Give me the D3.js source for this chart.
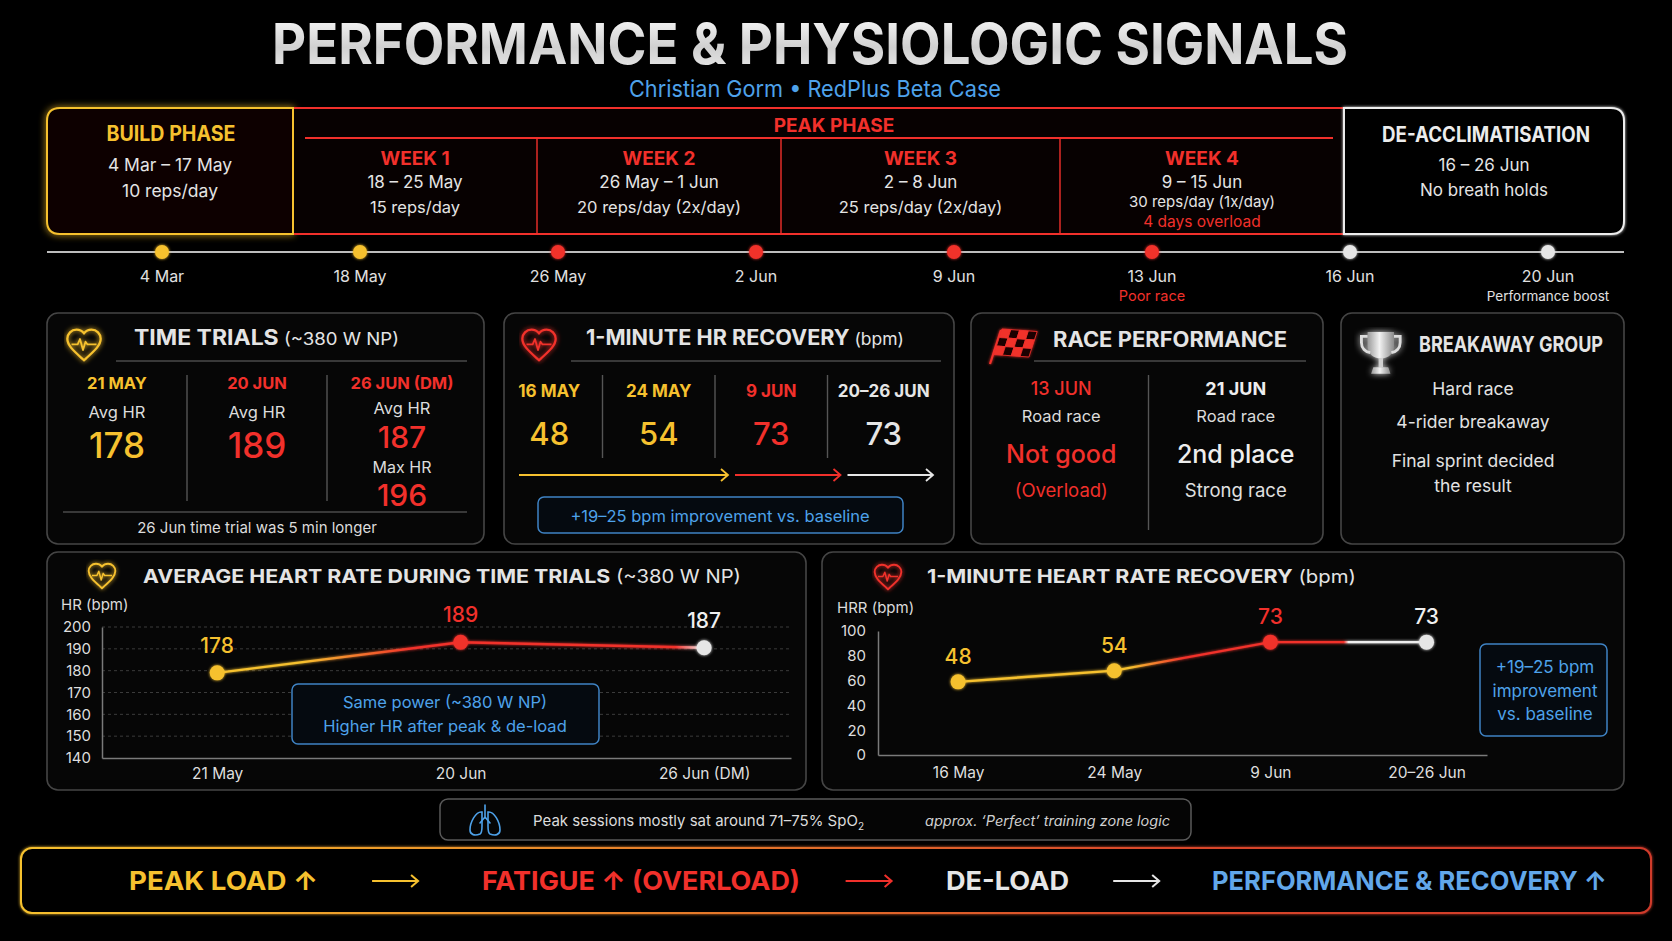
<!DOCTYPE html>
<html><head><meta charset="utf-8">
<script src="https://cdn.jsdelivr.net/npm/d3@7"></script>
<style>
html,body{margin:0;padding:0;background:#000;overflow:hidden;}
svg{display:block;font-family:Inter,Roboto,"Noto Sans",sans-serif;}
</style></head><body>
<svg id="c" width="1672" height="941"></svg>
<script>
// ---------------- DATA ----------------
const timelineDates = ["4 Mar","18 May","26 May","2 Jun","9 Jun","13 Jun","16 Jun","20 Jun"];
const timelinePhase = ["build","build","peak","peak","peak","peak","deload","deload"];
const timelineNotes = ["","","","","","Poor race","","Performance boost"];

const weekNames  = ["WEEK 1","WEEK 2","WEEK 3","WEEK 4"];
const weekRanges = ["18 – 25 May","26 May – 1 Jun","2 – 8 Jun","9 – 15 Jun"];
const weekReps   = ["15 reps/day","20 reps/day (2x/day)","25 reps/day (2x/day)","30 reps/day (1x/day)"];
const weekNotes  = ["","","","4 days overload"];

const ttDates = ["21 MAY","20 JUN","26 JUN (DM)"];
const ttPhase = ["build","peak","peak"];
const ttAvgHR = [178,189,187];
const ttMaxHR = [null,null,196];

const hrrDates  = ["16 MAY","24 MAY","9 JUN","20–26 JUN"];
const hrrPhase  = ["build","build","peak","deload"];
const hrrValues = [48,54,73,73];

const raceDates  = ["13 JUN","21 JUN"];
const raceType   = ["Road race","Road race"];
const raceResult = ["Not good","2nd place"];
const raceNote   = ["(Overload)","Strong race"];
const racePhase  = ["peak","deload"];

const breakawayLines = ["Hard race","4-rider breakaway","Final sprint decided","the result"];

const hrChartDates   = ["21 May","20 Jun","26 Jun (DM)"];
const hrChartLabels  = [178,189,187];
const hrChartPlotted = [179,193,190.5];   // heights as drawn in the reference
const hrChartPhase   = ["build","peak","deload"];
const hrYTicks       = [140,150,160,170,180,190,200];

const hrrChartDates   = ["16 May","24 May","9 Jun","20–26 Jun"];
const hrrChartLabels  = [48,54,73,73];
const hrrChartPlotted = [59,68,91,91];    // heights as drawn in the reference
const hrrChartPhase   = ["build","build","peak","deload"];
const hrrYTicks       = [0,20,40,60,80,100];

const flowSteps = ["PEAK LOAD ↑","FATIGUE ↑ (OVERLOAD)","DE-LOAD","PERFORMANCE & RECOVERY ↑"];
const flowPhase = ["build","peak","deload","perf"];

// ---------------- STYLE / LAYOUT ----------------
const COL = {build:"#f6c12f", peak:"#f1302b", deload:"#e6e6e6", perf:"#62a7ea", blue:"#4ea2ea", text:"#dcdcdc"};
const col = p => COL[p];
const W = 1672, H = 941;
const svg = d3.select("#c");
svg.append("rect").attr("width",W).attr("height",H).attr("fill","#000");
const defs = svg.append("defs");

function glow(id, sd){
  const f = defs.append("filter").attr("id",id).attr("filterUnits","userSpaceOnUse")
    .attr("x",0).attr("y",0).attr("width",W).attr("height",H);
  f.append("feGaussianBlur").attr("in","SourceGraphic").attr("stdDeviation",sd).attr("result","b");
  const m = f.append("feMerge");
  m.append("feMergeNode").attr("in","b");
  m.append("feMergeNode").attr("in","SourceGraphic");
}
glow("glow",3.5); glow("glowS",1.5);

const tg = defs.append("linearGradient").attr("id","titleGrad").attr("x1",0).attr("x2",0).attr("y1",0).attr("y2",1);
tg.append("stop").attr("offset",0).attr("stop-color","#ffffff");
tg.append("stop").attr("offset",0.55).attr("stop-color","#d0d0d0");
tg.append("stop").attr("offset",1).attr("stop-color","#eeeeee");
const sg = defs.append("linearGradient").attr("id","silver").attr("x1",0).attr("x2",1).attr("y1",0).attr("y2",0);
sg.append("stop").attr("offset",0).attr("stop-color","#9a9a9a");
sg.append("stop").attr("offset",0.45).attr("stop-color","#f2f2f2");
sg.append("stop").attr("offset",1).attr("stop-color","#8a8a8a");
const bg = defs.append("linearGradient").attr("id","bannerGrad").attr("x1",0).attr("x2",1).attr("y1",0).attr("y2",0);
[[0,"#f6c12f"],[0.35,"#e8862a"],[0.7,"#d9472c"],[1,"#cf3a2c"]].forEach(s=>bg.append("stop").attr("offset",s[0]).attr("stop-color",s[1]));

function T(x,y,s,o={}){
  const t = svg.append("text").attr("x",x).attr("y",y).text(s)
    .attr("fill",o.fill||COL.text).attr("font-size",o.size||16).attr("font-weight",o.weight||400)
    .attr("text-anchor",o.anchor||"middle");
  if(o.len) t.attr("textLength",o.len).attr("lengthAdjust","spacingAndGlyphs");
  if(o.style) t.attr("font-style",o.style);
  if(o.filter) t.attr("filter",`url(#${o.filter})`);
  return t;
}
function panel(x0,y0,x1,y1){
  svg.append("rect").attr("x",x0).attr("y",y0).attr("width",x1-x0).attr("height",y1-y0).attr("rx",11)
    .attr("fill","#060606").attr("stroke","#454545").attr("stroke-width",1.6);
}
function header(x,y,main,sub,len,size,subSize){
  const t = svg.append("text").attr("x",x).attr("y",y).attr("fill","#e4e4e4").attr("font-weight",700).attr("font-size",size);
  t.append("tspan").text(main);
  if(sub) t.append("tspan").attr("font-weight",400).attr("font-size",subSize).text(" "+sub);
  if(len) t.attr("textLength",len).attr("lengthAdjust","spacingAndGlyphs");
}
function hline(x0,x1,y,c,w){ svg.append("line").attr("x1",x0).attr("x2",x1).attr("y1",y).attr("y2",y).attr("stroke",c).attr("stroke-width",w||1.5); }
function vline(x,y0,y1,c,w){ svg.append("line").attr("x1",x).attr("x2",x).attr("y1",y0).attr("y2",y1).attr("stroke",c).attr("stroke-width",w||1.5); }
function heart(cx,cy,size,c){
  const s=size/24, g=svg.append("g").attr("transform",`translate(${cx-12*s},${cy-12.2*s}) scale(${s})`).attr("filter","url(#glowS)");
  g.append("path").attr("d","M12 21.35l-1.45-1.32C5.4 15.36 2 12.28 2 8.5 2 5.42 4.42 3 7.5 3c1.74 0 3.41.81 4.5 2.09C13.09 3.81 14.76 3 16.5 3 19.58 3 22 5.42 22 8.5c0 3.78-3.4 6.86-8.55 11.54L12 21.35z")
    .attr("fill","none").attr("stroke",c).attr("stroke-width",1.4);
  g.append("path").attr("d","M4.5 11.8H8.2L9.6 8.6L11.4 15.2L12.9 10.2L14 11.8H19.5")
    .attr("fill","none").attr("stroke",c).attr("stroke-width",1.1).attr("stroke-linejoin","round");
}
function arrow(x0,x1,y,c,w){
  svg.append("line").attr("x1",x0).attr("x2",x1-1).attr("y1",y).attr("y2",y).attr("stroke",c).attr("stroke-width",w||2);
  svg.append("path").attr("d",`M${x1-7},${y-6}L${x1},${y}L${x1-7},${y+6}`).attr("fill","none").attr("stroke",c).attr("stroke-width",w||2);
}

// ---------------- TITLE ----------------
T(272,64,"PERFORMANCE & PHYSIOLOGIC SIGNALS",{anchor:"start",size:56,weight:700,fill:"url(#titleGrad)",len:1076});
T(815,97,"Christian Gorm • RedPlus Beta Case",{size:23,fill:COL.blue,len:372});

// ---------------- PHASE BOXES ----------------
const ph = {top:108,bot:234,x0:47,b1:293,b2:1344,x1:1624};
const weekEdges = [ph.b1,537,781,1060,ph.b2];   // layout of the week columns
svg.append("path").attr("d",`M${ph.b1},${ph.top}H${ph.x0+13}Q${ph.x0},${ph.top} ${ph.x0},${ph.top+13}V${ph.bot-13}Q${ph.x0},${ph.bot} ${ph.x0+13},${ph.bot}H${ph.b1}Z`)
  .attr("fill","#080602").attr("stroke",COL.build).attr("stroke-width",2).attr("filter","url(#glow)");
svg.append("rect").attr("x",ph.b1+1).attr("y",ph.top).attr("width",ph.b2-ph.b1-1).attr("height",ph.bot-ph.top).attr("fill","#070101");
hline(ph.b1+1,ph.b2,ph.top,COL.peak,2); hline(ph.b1+1,ph.b2,ph.bot,COL.peak,2);
svg.append("path").attr("d",`M${ph.b1},${ph.top}V${ph.bot}`).attr("stroke",COL.build).attr("stroke-width",2);
svg.append("path").attr("d",`M${ph.b2},${ph.top}H${ph.x1-13}Q${ph.x1},${ph.top} ${ph.x1},${ph.top+13}V${ph.bot-13}Q${ph.x1},${ph.bot} ${ph.x1-13},${ph.bot}H${ph.b2}Z`)
  .attr("fill","#060606").attr("stroke","#ededed").attr("stroke-width",2).attr("filter","url(#glowS)");

T((ph.x0+ph.b1)/2+1,141,"BUILD PHASE",{size:21,weight:700,fill:COL.build,len:129});
T((ph.x0+ph.b1)/2,171,"4 Mar – 17 May",{size:17.5,fill:"#e4e4e4"});
T((ph.x0+ph.b1)/2,197,"10 reps/day",{size:17.5,fill:"#e4e4e4"});

T(834,132,"PEAK PHASE",{size:19,weight:700,fill:COL.peak});
hline(305,1333,138,COL.peak,1.8);
weekNames.forEach((w,i)=>{
  const x0 = weekEdges[i], cx = (weekEdges[i]+weekEdges[i+1])/2;
  if(i>0) vline(x0,138,ph.bot,COL.peak,1.4);
  T(cx,165,w,{size:19,weight:700,fill:COL.peak});
  T(cx,188,weekRanges[i],{size:17,fill:"#e4e4e4"});
  if(weekNotes[i]){
    T(cx,207,weekReps[i],{size:15,fill:"#e4e4e4"});
    T(cx,227,weekNotes[i],{size:15.5,fill:COL.peak});
  } else T(cx,213,weekReps[i],{size:16.5,fill:"#e4e4e4"});
});
T((ph.b2+ph.x1)/2+2,142,"DE-ACCLIMATISATION",{size:21,weight:700,fill:"#ececec",len:208});
T((ph.b2+ph.x1)/2,171,"16 – 26 Jun",{size:17,fill:"#e4e4e4"});
T((ph.b2+ph.x1)/2,196,"No breath holds",{size:17,fill:"#e4e4e4"});

// ---------------- TIMELINE ----------------
const tlY = 252;
hline(ph.x0,ph.x1,tlY,"#bdbdbd",2.2);
const tx = d3.scalePoint().domain(timelineDates).range([162,1548]);
svg.append("g").selectAll("circle").data(timelineDates).join("circle")
  .attr("cx",d=>tx(d)).attr("cy",tlY).attr("r",7)
  .attr("fill",(d,i)=>col(timelinePhase[i])).attr("filter","url(#glowS)");
timelineDates.forEach((d,i)=>{
  T(tx(d),282,d,{size:16,fill:"#e0e0e0"});
  if(timelineNotes[i]) T(tx(d),301,timelineNotes[i],{size:i===5?14.5:13.5,fill:i===5?COL.peak:"#e0e0e0"});
});

// ---------------- TOP PANELS ----------------
// Time trials
panel(47,313,484,544);
heart(84,345,40,COL.build);
header(134,345,"TIME TRIALS","(~380 W NP)",265,21,17);
hline(116,467,361,"#4a4a4a",1.5);
const ttBand = d3.scaleBand().domain(ttDates).range([47,467]);
ttDates.forEach((d,i)=>{
  const x0=ttBand(d), cx=x0+ttBand.bandwidth()/2+(i===2?5:0), c=col(ttPhase[i]);
  if(i>0) vline(x0,375,501,"#555",1.4);
  T(cx,389,d,{size:16.5,weight:700,fill:c});
  if(ttMaxHR[i]==null){
    T(cx,418,"Avg HR",{size:16.5});
    T(cx,458,ttAvgHR[i],{size:35,weight:500,fill:c});
  } else {
    T(cx,414,"Avg HR",{size:16.5});
    T(cx,448,ttAvgHR[i],{size:30,weight:500,fill:c});
    T(cx,473,"Max HR",{size:16});
    T(cx,506,ttMaxHR[i],{size:30,weight:500,fill:c});
  }
});
hline(63,467,512,"#4a4a4a",1.5);
T(257,533,"26 Jun time trial was 5 min longer",{size:15});

// HR recovery
panel(504,313,954,544);
heart(539,345,40,COL.peak);
header(586,345,"1-MINUTE HR RECOVERY","(bpm)",318,21,17);
hline(571,941,361,"#4a4a4a",1.5);
const hrrBand = d3.scaleBand().domain(hrrDates).range([490,940]);
const bw = hrrBand.bandwidth();
hrrDates.forEach((d,i)=>{
  const x0=hrrBand(d), cx=x0+bw/2+(i===0?3:0), c=col(hrrPhase[i]);
  if(i>0) vline(x0,375,458,"#555",1.4);
  T(cx,397,d,{size:17,weight:700,fill:c});
  T(cx,445,hrrValues[i],{size:31,weight:500,fill:c});
});
let segStart = 0;
hrrPhase.forEach((p,i)=>{
  if(i===hrrPhase.length-1 || hrrPhase[i+1]!==p){
    const a=segStart, b=i, n=hrrPhase.length;
    const x0 = hrrBand(hrrDates[a]) + (a===0?29:20);
    const x1 = b<n-1 ? hrrBand(hrrDates[b+1])+13 : hrrBand(hrrDates[b])+bw-7;
    arrow(x0,x1,475,col(p),1.8);
    segStart = i+1;
  }
});
svg.append("rect").attr("x",538).attr("y",497).attr("width",365).attr("height",36).attr("rx",6)
  .attr("fill","#050a10").attr("stroke","#3f83c4").attr("stroke-width",1.5);
T(720,522,"+19–25 bpm improvement vs. baseline",{size:16.5,fill:COL.blue});

// Race performance
panel(971,313,1323,544);
(function flag(){
  const g = svg.append("g").attr("filter","url(#glowS)");
  g.append("line").attr("x1",990).attr("y1",364).attr("x2",1001).attr("y2",330).attr("stroke",COL.peak).attr("stroke-width",2.2);
  const f = g.append("g").attr("transform","translate(1002,329) skewX(-18) skewY(4)");
  for(let r=0;r<3;r++) for(let c=0;c<4;c++){
    f.append("rect").attr("x",c*9).attr("y",r*8.5).attr("width",9).attr("height",8.5)
      .attr("fill",(r+c)%2===0?COL.peak:"#1a0202").attr("stroke",COL.peak).attr("stroke-width",0.8);
  }
})();
header(1053,347,"RACE PERFORMANCE",null,234,21);
hline(1034,1306,361,"#4a4a4a",1.5);
const raceBand = d3.scaleBand().domain(raceDates).range([974,1323]);
raceDates.forEach((d,i)=>{
  const x0=raceBand(d), cx=x0+raceBand.bandwidth()/2;
  if(i>0) vline(x0,375,530,"#555",1.4);
  T(cx,395,d,{size:18,weight:i===0?500:700,fill:i===0?COL.peak:"#eeeeee"});
  T(cx,422,raceType[i],{size:16.5});
  T(cx,463,raceResult[i],{size:25,weight:500,fill:i===0?COL.peak:"#eeeeee"});
  T(cx,497,raceNote[i],{size:18.5,fill:i===0?COL.peak:"#e0e0e0"});
});

// Breakaway group
panel(1341,313,1624,544);
(function trophy(){
  const s=2.2, g=svg.append("g").attr("transform",`translate(${1361-3*s},${332-2*s}) scale(${s})`).attr("filter","url(#glowS)");
  g.append("path").attr("d","M6 2H18V8C18 11.8 15.5 14 12 14C8.5 14 6 11.8 6 8Z").attr("fill","url(#silver)");
  g.append("path").attr("d","M6 4H3.2V6.8C3.2 9.4 5 11 7.2 11.4M18 4H20.8V6.8C20.8 9.4 19 11 16.8 11.4")
    .attr("fill","none").attr("stroke","#dcdcdc").attr("stroke-width",1.3);
  g.append("rect").attr("x",11).attr("y",13.8).attr("width",2).attr("height",4.2).attr("fill","#cfcfcf");
  g.append("path").attr("d","M8.6 18H15.4L16.4 21H7.6Z").attr("fill","url(#silver)");
})();
header(1419,352,"BREAKAWAY GROUP",null,184,22);
const bY = [395,428,467,492];
breakawayLines.forEach((l,i)=>T(1473,bY[i],l,{size:17.5,fill:"#e2e2e2"}));

// ---------------- HR CHART ----------------
panel(47,552,806,790);
heart(102,576,32,COL.build);
header(143,583,"AVERAGE HEART RATE DURING TIME TRIALS","(~380 W NP)",598,19,18);
T(61,610,"HR (bpm)",{anchor:"start",size:15});
const hx = d3.scalePoint().domain(hrChartDates).range([102,791]).padding(0.415).align(0.57);
const hy = d3.scaleLinear().domain([140,200]).range([758,627]);
svg.append("g").selectAll("line").data(hrYTicks.slice(1)).join("line")
  .attr("x1",102).attr("x2",791).attr("y1",d=>hy(d)).attr("y2",d=>hy(d))
  .attr("stroke","#3b3b3b").attr("stroke-width",1).attr("stroke-dasharray","3,3");
const hyAx = svg.append("g").attr("transform","translate(102,0)")
  .call(d3.axisLeft(hy).tickValues(hrYTicks).tickSize(0).tickPadding(11));
const hxAx = svg.append("g").attr("transform","translate(0,758)")
  .call(d3.axisBottom(hx).tickSize(0).tickPadding(10));
[hyAx,hxAx].forEach(a=>{
  a.select(".domain").attr("stroke","#7a7a7a").attr("stroke-width",1.5);
  a.selectAll("text").attr("fill","#dedede").attr("font-size",15.5).attr("font-family","Inter,Roboto,sans-serif");
});
hyAx.selectAll("text").attr("font-size",15);
(function(){
  const xs = hrChartDates.map(d=>hx(d)), x0=xs[0], x2=xs[xs.length-1], L=x2-x0;
  const g = defs.append("linearGradient").attr("id","hrLine").attr("gradientUnits","userSpaceOnUse")
    .attr("x1",x0).attr("x2",x2).attr("y1",0).attr("y2",0);
  const f = x=>(x-x0)/L;
  [[0,COL.build],[f(x0+0.35*(xs[1]-x0)),COL.build],[f(x0+0.8*(xs[1]-x0)),COL.peak],[f(x2-0.12*(x2-xs[1])),COL.peak],[1,"#f2f2f2"]]
    .forEach(s=>g.append("stop").attr("offset",s[0]).attr("stop-color",s[1]));
})();
const hrPts = hrChartDates.map((d,i)=>[hx(d),hy(hrChartPlotted[i])]);
svg.append("path").attr("d",d3.line()(hrPts)).attr("fill","none").attr("stroke","url(#hrLine)").attr("stroke-width",2.4).attr("filter","url(#glowS)");
svg.append("g").selectAll("circle").data(hrChartDates).join("circle")
  .attr("cx",d=>hx(d)).attr("cy",(d,i)=>hy(hrChartPlotted[i])).attr("r",7.5)
  .attr("fill",(d,i)=>col(hrChartPhase[i])).attr("filter","url(#glowS)");
hrChartDates.forEach((d,i)=>T(hx(d),hy(hrChartPlotted[i])-20,hrChartLabels[i],{size:21,weight:500,fill:i===2?"#f0f0f0":col(hrChartPhase[i])}));
svg.append("rect").attr("x",292).attr("y",684).attr("width",307).attr("height",60).attr("rx",6)
  .attr("fill","#050a10").attr("stroke","#3f83c4").attr("stroke-width",1.5);
T(445,708,"Same power (~380 W NP)",{size:16.5,fill:COL.blue});
T(445,732,"Higher HR after peak & de-load",{size:16.5,fill:COL.blue});

// ---------------- HRR CHART ----------------
panel(822,552,1624,790);
heart(888,577,32,COL.peak);
header(927,583,"1-MINUTE HEART RATE RECOVERY","(bpm)",429,19,18);
T(837,613,"HRR (bpm)",{anchor:"start",size:15});
const rx = d3.scalePoint().domain(hrrChartDates).range([878,1487]).padding(0.45).align(0.57);
const ry = d3.scaleLinear().domain([0,100]).range([755,631]);
const ryAx = svg.append("g").attr("transform","translate(878,0)")
  .call(d3.axisLeft(ry).tickValues(hrrYTicks).tickSize(0).tickPadding(12));
const rxAx = svg.append("g").attr("transform","translate(0,755)")
  .call(d3.axisBottom(rx).tickSize(0).tickPadding(12));
[ryAx,rxAx].forEach(a=>{
  a.select(".domain").attr("stroke","#7a7a7a").attr("stroke-width",1.5);
  a.selectAll("text").attr("fill","#dedede").attr("font-size",15.5).attr("font-family","Inter,Roboto,sans-serif");
});
ryAx.selectAll("text").attr("font-size",15);
(function(){
  const xs = hrrChartDates.map(d=>rx(d)), x0=xs[0], x3=xs[3], L=x3-x0, f=x=>(x-x0)/L;
  const g = defs.append("linearGradient").attr("id","hrrLine").attr("gradientUnits","userSpaceOnUse")
    .attr("x1",x0).attr("x2",x3).attr("y1",0).attr("y2",0);
  const s2=xs[2]-xs[1], s3=xs[3]-xs[2];
  [[0,COL.build],[f(xs[1]+0.1*s2),COL.build],[f(xs[1]+0.45*s2),COL.peak],[f(xs[2]+0.47*s3),COL.peak],[f(xs[2]+0.5*s3),"#eeeeee"],[1,"#eeeeee"]]
    .forEach(s=>g.append("stop").attr("offset",s[0]).attr("stop-color",s[1]));
})();
const hrrPts = hrrChartDates.map((d,i)=>[rx(d),ry(hrrChartPlotted[i])]);
svg.append("path").attr("d",d3.line()(hrrPts)).attr("fill","none").attr("stroke","url(#hrrLine)").attr("stroke-width",2.4).attr("filter","url(#glowS)");
svg.append("g").selectAll("circle").data(hrrChartDates).join("circle")
  .attr("cx",d=>rx(d)).attr("cy",(d,i)=>ry(hrrChartPlotted[i])).attr("r",7.5)
  .attr("fill",(d,i)=>col(hrrChartPhase[i])).attr("filter","url(#glowS)");
hrrChartDates.forEach((d,i)=>T(rx(d),ry(hrrChartPlotted[i])-18,hrrChartLabels[i],{size:21,weight:500,fill:i===3?"#f0f0f0":col(hrrChartPhase[i])}));
svg.append("rect").attr("x",1480).attr("y",644).attr("width",127).attr("height",92).attr("rx",6)
  .attr("fill","#050a10").attr("stroke","#3f83c4").attr("stroke-width",1.5);
T(1545,673,"+19–25 bpm",{size:17,fill:COL.blue});
T(1545,697,"improvement",{size:17,fill:COL.blue});
T(1545,720,"vs. baseline",{size:17,fill:COL.blue});

// ---------------- FOOTNOTE ----------------
svg.append("rect").attr("x",440).attr("y",799).attr("width",751).attr("height",41).attr("rx",8)
  .attr("fill","#050505").attr("stroke","#5a5a5a").attr("stroke-width",1.5);
(function lungs(){
  const g = svg.append("g").attr("transform","translate(485,820)").attr("fill","none").attr("stroke",COL.blue).attr("stroke-width",1.6).attr("stroke-linecap","round");
  g.append("path").attr("d","M0,-15V-2M0,-3L-5,3M0,-3L5,3");
  g.append("path").attr("d","M-3,-8C-9,-9 -15,2 -15,10C-15,15 -10,16 -5,14C-3,13 -3,10 -3,6Z");
  g.append("path").attr("d","M3,-8C9,-9 15,2 15,10C15,15 10,16 5,14C3,13 3,10 3,6Z");
})();
const fn = svg.append("text").attr("x",533).attr("y",826).attr("fill","#dcdcdc").attr("font-size",15);
fn.append("tspan").text("Peak sessions mostly sat around 71–75% SpO");
fn.append("tspan").attr("font-size",10).attr("dy",4).text("2");
T(925,826,"approx. ‘Perfect’ training zone logic",{anchor:"start",size:14,style:"italic",fill:"#d0d0d0",len:245});

// ---------------- BOTTOM BANNER ----------------
svg.append("rect").attr("x",21).attr("y",848).attr("width",1630).attr("height",65).attr("rx",11)
  .attr("fill","#060301").attr("stroke","url(#bannerGrad)").attr("stroke-width",2).attr("filter","url(#glowS)");
const flowX = [[129,318],[482,800],[946,1069],[1212,1607]];
flowSteps.forEach((s,i)=>{
  T(flowX[i][0],890,s,{anchor:"start",size:26,weight:700,fill:col(flowPhase[i]),len:flowX[i][1]-flowX[i][0]});
  if(i<flowSteps.length-1){
    const c = flowX[i][1] + 0.47*(flowX[i+1][0]-flowX[i][1]);
    arrow(c-23,c+23,881,col(flowPhase[i]),2);
  }
});
</script>
</body></html>
